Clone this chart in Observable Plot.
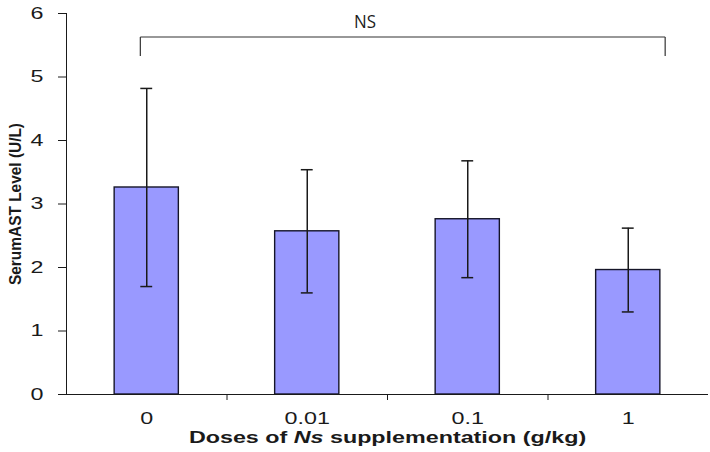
<!DOCTYPE html>
<html>
<head>
<meta charset="utf-8">
<script src="https://cdn.jsdelivr.net/npm/d3@7"></script>
<script src="https://cdn.jsdelivr.net/npm/@observablehq/plot@0.6"></script>
<style>
  html, body { margin: 0; padding: 0; background: white; }
</style>
</head>
<body>
<div id="chart"></div>
<script>
// ---- data ----
const categories = ["0", "0.01", "0.1", "1"];
const means = [3.26, 2.57, 2.76, 1.96];
const errors = [1.56, 0.97, 0.92, 0.66];
const yTicks = [0, 1, 2, 3, 4, 5, 6];
const boundaryTicks = [0.5, 1.5, 2.5];
// significance bracket: [from, to] in category index units, level and drop in y units
const bracketSpan = [-0.04, 3.23];
const bracketLevel = [5.63];
const bracketDrop = [0.3];
const bracketLabel = ["NS"];
const bracketLabelPos = [1.36, 5.86];
const xTitle = "Doses of Ns supplementation (g/kg)";
const yTitle = "SerumAST Level (U/L)";

const data = categories.map((c, i) => ({
  i, c, mean: means[i], lo: means[i] - errors[i], hi: means[i] + errors[i]
}));
const bracketLines = [
  {x1: bracketSpan[0], x2: bracketSpan[1], y1: bracketLevel[0], y2: bracketLevel[0]},
  {x1: bracketSpan[0], x2: bracketSpan[0], y1: bracketLevel[0] - bracketDrop[0], y2: bracketLevel[0]},
  {x1: bracketSpan[1], x2: bracketSpan[1], y1: bracketLevel[0] - bracketDrop[0], y2: bracketLevel[0]}
];

const halfBar = 0.2, halfCap = 0.037;
const ink = "#1a1a1a";

const chart = Plot.plot({
  width: 710,
  height: 452,
  marginLeft: 66,
  marginRight: 2,
  marginTop: 13,
  marginBottom: 58,
  style: {fontFamily: "'Liberation Sans', Arial, sans-serif", fontSize: "17px", color: ink, background: "white", overflow: "visible"},
  x: {type: "linear", domain: [-0.5, 3.5], axis: null},
  y: {domain: [0, 6], axis: null},
  marks: [
    Plot.axisY({ticks: yTicks, tickSize: 8, tickPadding: 15, fontSize: 17, label: null, tickFormat: d => String(d), stroke: ink}),
    Plot.axisX({ticks: boundaryTicks, tickSize: 6, tickFormat: () => "", label: null, stroke: ink}),
    Plot.axisX({ticks: data.map(d => d.i), tickSize: 0, tickPadding: 17, fontSize: 17, tickFormat: i => categories[i], label: null}),
    Plot.rect(data, {x1: d => d.i - halfBar, x2: d => d.i + halfBar, y1: 0, y2: "mean", fill: "#9999ff", stroke: "#151528", strokeWidth: 1.4}),
    Plot.ruleX(data, {x: "i", y1: "lo", y2: "hi", stroke: ink, strokeWidth: 1.5}),
    Plot.ruleY(data, {y: "hi", x1: d => d.i - halfCap, x2: d => d.i + halfCap, stroke: ink, strokeWidth: 1.5}),
    Plot.ruleY(data, {y: "lo", x1: d => d.i - halfCap, x2: d => d.i + halfCap, stroke: ink, strokeWidth: 1.5}),
    Plot.ruleX([-0.5], {y1: 0, y2: 6, stroke: ink, strokeWidth: 1}),
    Plot.ruleY([0], {stroke: ink, strokeWidth: 1}),
    Plot.link(bracketLines, {x1: "x1", x2: "x2", y1: "y1", y2: "y2", stroke: "#333", strokeWidth: 1.2}),
    Plot.text(bracketLabel, {x: () => bracketLabelPos[0], y: () => bracketLabelPos[1], text: d => d, fontFamily: "'Open Sans', sans-serif", fontSize: 19, fill: ink}),
    Plot.text([xTitle], {frameAnchor: "bottom", lineAnchor: "top", dy: 36, fontWeight: "bold", fontSize: 17, fill: ink}),
    Plot.text([yTitle], {frameAnchor: "left", textAnchor: "middle", rotate: -90, dx: -51, fontWeight: "bold", fontSize: 16, fill: ink})
  ]
});

document.getElementById("chart").appendChild(chart);

// The reference image is horizontally stretched; stretch horizontal texts accordingly.
chart.querySelectorAll("text").forEach(t => {
  const s = t.textContent;
  if (!s) return;
  let target;
  if (s === yTitle) target = 162;
  else if (s === "NS") target = 22;
  else target = t.getComputedTextLength() * 1.37;
  t.setAttribute("textLength", target);
  t.setAttribute("lengthAdjust", "spacingAndGlyphs");
});

// Italicise "Ns" in the x title
chart.querySelectorAll("text").forEach(t => {
  if (t.textContent === xTitle) {
    const parts = xTitle.split("Ns");
    const len = t.getAttribute("textLength");
    t.textContent = "";
    const a = document.createElementNS("http://www.w3.org/2000/svg", "tspan"); a.textContent = parts[0];
    const b = document.createElementNS("http://www.w3.org/2000/svg", "tspan"); b.textContent = "Ns"; b.setAttribute("font-style", "italic");
    const c = document.createElementNS("http://www.w3.org/2000/svg", "tspan"); c.textContent = parts[1];
    t.append(a, b, c);
    t.setAttribute("textLength", len);
  }
});
</script>
</body>
</html>
